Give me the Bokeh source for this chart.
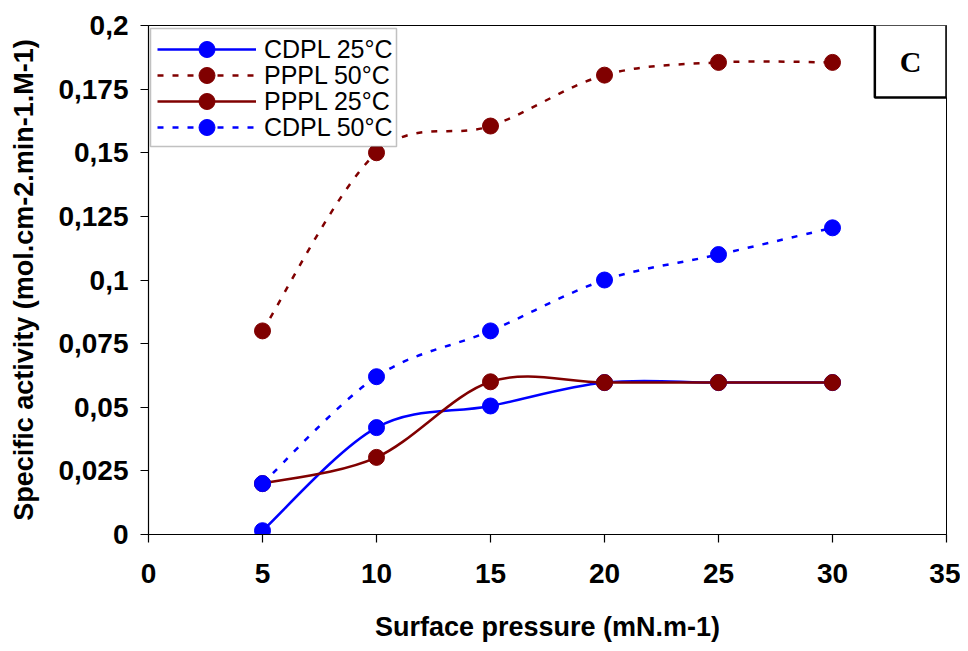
import numpy as np
from bokeh.plotting import figure
from bokeh.models import Legend, LegendItem, FixedTicker, Label, Range1d, BoxAnnotation
from bokeh.embed import file_html
from bokeh.resources import INLINE

# ---- data ----
x_values = [5, 10, 15, 20, 25, 30]
cdpl_25 = [0.0015, 0.042, 0.0505, 0.0597, 0.0597, 0.0597]
pppl_50 = [0.080, 0.150, 0.1605, 0.1805, 0.1855, 0.1855]
pppl_25 = [0.020, 0.0303, 0.0600, 0.0597, 0.0597, 0.0597]
cdpl_50 = [0.020, 0.062, 0.080, 0.100, 0.110, 0.1205]
series_names = ["CDPL 25°C", "PPPL 50°C", "PPPL 25°C", "CDPL 50°C"]
x_ticks = [0, 5, 10, 15, 20, 25, 30, 35]
y_ticks = [0, 0.025, 0.05, 0.075, 0.1, 0.125, 0.15, 0.175, 0.2]
y_tick_labels = ["0", "0,025", "0,05", "0,075", "0,1", "0,125", "0,15", "0,175", "0,2"]


def smooth_segments(xs, ys, t=1.0 / 6.0):
    """Bezier control points (Catmull-Rom style, like Excel's smoothed line)."""
    xs = np.asarray(xs, float)
    ys = np.asarray(ys, float)
    n = len(xs)
    out = dict(x0=[], y0=[], x1=[], y1=[], cx0=[], cy0=[], cx1=[], cy1=[])
    for i in range(n - 1):
        i0 = max(i - 1, 0)
        i3 = min(i + 2, n - 1)
        out["x0"].append(xs[i]); out["y0"].append(ys[i])
        out["x1"].append(xs[i + 1]); out["y1"].append(ys[i + 1])
        out["cx0"].append(xs[i] + (xs[i + 1] - xs[i0]) * t)
        out["cy0"].append(ys[i] + (ys[i + 1] - ys[i0]) * t)
        out["cx1"].append(xs[i + 1] - (xs[i3] - xs[i]) * t)
        out["cy1"].append(ys[i + 1] - (ys[i3] - ys[i]) * t)
    return out


FONT = "Liberation Sans"
FRAME_H = 509

p = figure(width=960, height=651,
           x_range=Range1d(0, 35), y_range=Range1d(0, 0.2),
           min_border_left=148, min_border_right=14,
           min_border_top=25, min_border_bottom=117,
           output_backend="svg", toolbar_location=None)

p.xgrid.visible = False
p.ygrid.visible = False
p.outline_line_color = "black"
p.outline_line_width = 1
p.background_fill_color = "white"
p.border_fill_color = "white"

styles = [
    ("#0000FF", "solid"),
    ("#800000", "6 9"),
    ("#800000", "solid"),
    ("#0000FF", "6 9"),
]
all_series = [cdpl_25, pppl_50, pppl_25, cdpl_50]

items = []
for name, ys, (col, dash) in zip(series_names, all_series, styles):
    seg = smooth_segments(x_values, ys)
    r_line = p.bezier(x0=seg["x0"], y0=seg["y0"], x1=seg["x1"], y1=seg["y1"],
                      cx0=seg["cx0"], cy0=seg["cy0"], cx1=seg["cx1"], cy1=seg["cy1"],
                      line_color=col, line_width=2.5, line_dash=dash)
    r_pts = p.scatter(x_values, ys, size=16, marker="circle",
                      fill_color=col, line_color=col)
    items.append(LegendItem(label=name, renderers=[r_line, r_pts]))

# legend frame (screen units, relative to the plot frame)
legend_box = BoxAnnotation(left=2, right=248, top=FRAME_H - 3, bottom=FRAME_H - 121,
                           left_units="screen", right_units="screen",
                           top_units="screen", bottom_units="screen",
                           fill_color="white", fill_alpha=1.0,
                           line_color="#333333", line_width=1.5)
p.add_layout(legend_box)

# one legend per row so that rows can sit 26px apart with 16px markers
row_pitch = 26
for k, item in enumerate(items):
    top = 4 + k * row_pitch
    lg = Legend(items=[item], location=(9, FRAME_H - top - 40),
                label_text_font=FONT, label_text_font_size="25px",
                label_text_color="black",
                glyph_width=99, glyph_height=40, label_standoff=8,
                label_height=40,
                padding=0, spacing=0, margin=0,
                border_line_color=None,
                background_fill_alpha=0.0)
    p.add_layout(lg, "center")

# axes
for ax in (p.xaxis[0], p.yaxis[0]):
    ax.axis_line_color = "black"
    ax.axis_line_width = 1.2
    ax.major_tick_line_color = "black"
    ax.major_tick_line_width = 1.2
    ax.major_tick_in = 0
    ax.major_tick_out = 8
    ax.minor_tick_line_color = None
    ax.major_label_text_font = FONT
    ax.major_label_text_font_style = "bold"
    ax.major_label_text_font_size = "28px"
    ax.major_label_text_color = "black"
    ax.axis_label_text_font = FONT
    ax.axis_label_text_font_style = "bold"
    ax.axis_label_text_font_size = "27px"
    ax.axis_label_text_color = "black"

p.xaxis.ticker = FixedTicker(ticks=x_ticks)
p.yaxis.ticker = FixedTicker(ticks=y_ticks)
p.yaxis.major_label_overrides = {t: l for t, l in zip(y_ticks, y_tick_labels)}
p.xaxis.major_label_overrides = {t: str(t) for t in x_ticks}
p.xaxis.axis_label = "Surface pressure (mN.m-1)"
p.yaxis.axis_label = "Specific activity (mol.cm-2.min-1.M-1)"
p.xaxis.major_label_standoff = 21
p.yaxis.major_label_standoff = 12
p.xaxis.axis_label_standoff = 26
p.yaxis.axis_label_standoff = 16

# panel label "C"
lab = Label(x=35, y=0.2, text="C", anchor="top_right",
            x_units="data", y_units="data", y_offset=1,
            text_font="Liberation Serif", text_font_style="bold",
            text_font_size="30px", text_color="black",
            padding=(25, 20), border_line_color="black", border_line_width=2.5,
            background_fill_color="white")
p.add_layout(lab)

open("out.html", "w").write(file_html(p, INLINE))
